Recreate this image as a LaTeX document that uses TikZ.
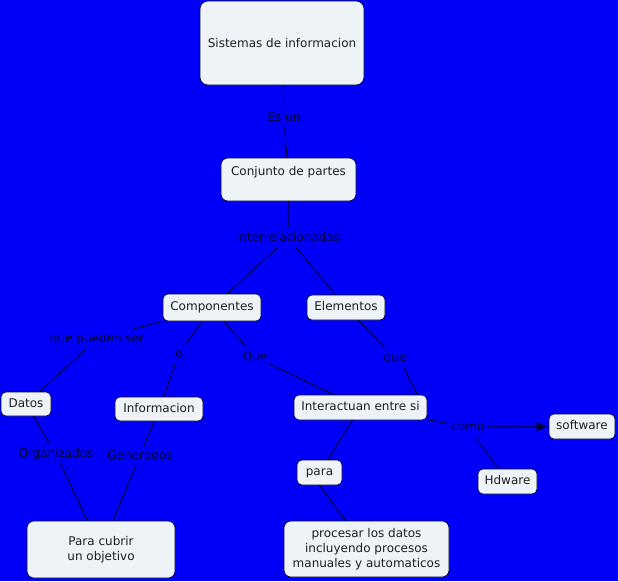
\documentclass[tikz,border=0pt]{standalone}
\usepackage{fontspec}
\setmainfont{DejaVu Sans}
\usetikzlibrary{arrows.meta}
\definecolor{bg}{RGB}{0,0,250}
\definecolor{nodefill}{RGB}{237,243,247}
\definecolor{ink}{RGB}{0,0,45}
\definecolor{txt}{RGB}{30,30,30}
\begin{document}
\begin{tikzpicture}[x=1pt,y=-1pt,
 cbox/.style={draw=ink, fill=nodefill, rounded corners=5pt, text=txt, font=\fontsize{12}{15}\selectfont, inner sep=2pt, align=center, line width=0.6pt},
 one/.style={cbox, text height=9pt, text depth=3pt},
 lbl/.style={text=ink, font=\fontsize{12}{15}\selectfont, inner xsep=3pt, inner ysep=4pt, text height=9pt, text depth=3pt},
 conn/.style={draw=ink, line width=0.9pt}]
\fill[bg] (0,0) rectangle (618,581);
\useasboundingbox (0,0) rectangle (618,581);
% concept nodes
\node[cbox, minimum width=164pt, minimum height=84pt, rounded corners=8pt] (sis) at (282,43) {Sistemas de informacion};
\node[cbox, minimum width=135pt, minimum height=43pt, text height=9pt, text depth=18pt, rounded corners=7pt] (conj) at (288.5,179.5) {Conjunto de partes};
\node[one, minimum width=98pt, minimum height=27pt] (comp) at (212,307.5) {Componentes};
\node[one, minimum width=78pt, minimum height=25pt] (elem) at (346,307.5) {Elementos};
\node[one, minimum width=50pt, minimum height=24pt] (datos) at (26,404) {Datos};
\node[one, minimum width=88pt, minimum height=24pt] (info) at (159,409) {Informacion};
\node[one, minimum width=133pt, minimum height=25pt] (inter) at (360.5,407.5) {Interactuan entre si};
\node[one, minimum width=66pt, minimum height=25pt] (soft) at (582,426.5) {software};
\node[one, minimum width=45pt, minimum height=25pt] (para) at (319.5,472.5) {para};
\node[one, minimum width=59pt, minimum height=25pt] (hd) at (507.5,481.5) {Hdware};
\node[cbox, minimum width=148pt, minimum height=57pt, rounded corners=7pt] (obj) at (101,549.5) {Para cubrir\\un objetivo};
\node[cbox, minimum width=165pt, minimum height=56pt, rounded corners=7pt] (proc) at (366.5,549) {procesar los datos\\incluyendo procesos\\manuales y automaticos};
% linking phrases
\node[lbl] (esun) at (284,118) {Es un};
\node[lbl] (interrel) at (288,238) {Interrelacionadas};
\node[lbl] (qps) at (97,339) {que pueden ser};
\node[lbl] (o) at (179,354) {o};
\node[lbl] (Que) at (255,357) {Que};
\node[lbl] (que) at (395,358) {que};
\node[lbl] (como) at (468,427) {como};
\node[lbl] (org) at (56,454) {Organizados};
\node[lbl] (gen) at (140,456) {Generados};
% connectors
\draw[conn] (sis) -- (esun) -- (conj);
\draw[conn] (conj) -- (interrel);
\draw[conn] (interrel) -- (comp);
\draw[conn] (interrel) -- (elem);
\draw[conn] (comp) -- (qps) -- (datos);
\draw[conn] (comp) -- (o) -- (info);
\draw[conn] (comp) -- (Que) -- (inter);
\draw[conn] (elem) -- (que);
\draw[conn] ([xshift=9pt]que.south) -- ([xshift=-10pt]inter.north east);
\draw[conn] (datos) -- (org) -- (obj);
\draw[conn] (info) -- (gen) -- (obj);
\draw[conn] (inter) -- (como) -- (hd);
\draw[conn, -{Triangle[length=10pt,width=9pt]}, shorten >=2pt] (como) -- (soft);
\draw[conn] (inter) -- (para);
\draw[conn] (para.south) -- (proc);
\end{tikzpicture}
\end{document}
